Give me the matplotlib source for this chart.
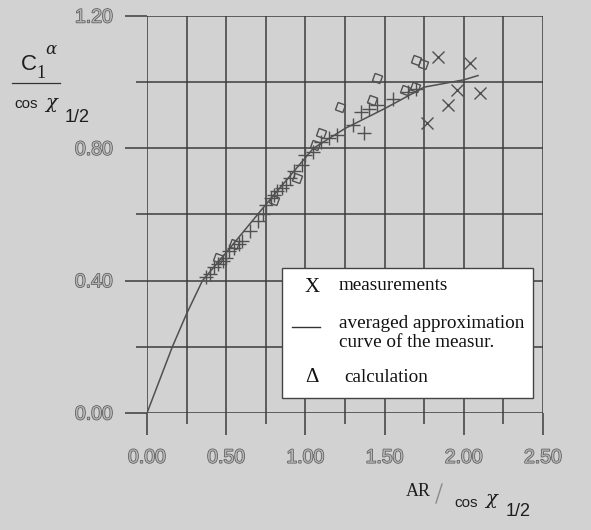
import matplotlib
matplotlib.use("Agg")
import matplotlib.pyplot as plt
import matplotlib.patheffects as pe
from matplotlib.patches import Rectangle
from matplotlib.lines import Line2D

# ---------------- data ----------------
curve_x = [0.0, 0.08, 0.16, 0.25, 0.35, 0.50, 0.75, 1.05, 1.25, 1.50, 1.75, 2.00, 2.09]
curve_y = [0.0, 0.10, 0.20, 0.30, 0.40, 0.485, 0.63, 0.80, 0.86, 0.92, 0.985, 1.007, 1.02]

meas_plus_x = [0.37, 0.40, 0.42, 0.45, 0.48, 0.50, 0.52, 0.55, 0.58, 0.60, 0.65,
               0.70, 0.73, 0.75, 0.78, 0.80, 0.82, 0.85, 0.88, 0.90, 0.93, 0.98,
               1.00, 1.05, 1.10, 1.15, 1.20, 1.30, 1.35, 1.37, 1.40, 1.45, 1.55,
               1.65, 1.70]
meas_plus_y = [0.41, 0.42, 0.44, 0.45, 0.46, 0.47, 0.49, 0.50, 0.51, 0.52, 0.55,
               0.58, 0.60, 0.63, 0.65, 0.66, 0.67, 0.68, 0.69, 0.71, 0.73, 0.75,
               0.78, 0.79, 0.82, 0.83, 0.84, 0.87, 0.91, 0.846, 0.92, 0.93, 0.95,
               0.97, 0.98]

meas_x_x = [1.84, 2.04, 1.96, 2.10, 1.90, 1.77]
meas_x_y = [1.076, 1.058, 0.976, 0.966, 0.93, 0.877]

calc_x = [0.45, 0.55, 0.80, 0.95, 1.06, 1.10, 1.22, 1.42, 1.45, 1.63, 1.69, 1.70, 1.74]
calc_y = [0.47, 0.51, 0.644, 0.71, 0.81, 0.846, 0.925, 0.946, 1.013, 0.976, 0.985, 1.067, 1.055]

x_ticks = [0.0, 0.5, 1.0, 1.5, 2.0, 2.5]
x_ticklabels = ["0.00", "0.50", "1.00", "1.50", "2.00", "2.50"]
x_minor = [0.25, 0.75, 1.25, 1.75, 2.25]
y_ticks = [0.0, 0.4, 0.8, 1.2]
y_ticklabels = ["0.00", "0.40", "0.80", "1.20"]
y_minor = [0.2, 0.6, 1.0]

legend_labels = ["measurements", "averaged approximation\ncurve of the measur.", "calculation"]

# ---------------- figure ----------------
W, H = 591, 530
BG = "#d2d2d2"
GRID = "#3c3c3c"
MARK = "#505050"

fig = plt.figure(figsize=(W / 100, H / 100), dpi=100, facecolor=BG)
ax = fig.add_axes([147 / W, 1 - 413 / H, (543 - 147) / W, (413 - 16) / H])
ax.set_facecolor(BG)
ax.set_xlim(0, 2.5)
ax.set_ylim(0, 1.2)
for s in ax.spines.values():
    s.set_visible(False)

ax.set_xticks(x_ticks)
ax.set_xticklabels(x_ticklabels)
ax.set_xticks(x_minor, minor=True)
ax.set_yticks(y_ticks)
ax.set_yticklabels(y_ticklabels)
ax.set_yticks(y_minor, minor=True)

ax.grid(True, which="both", color=GRID, linewidth=1.1)
ax.tick_params(which="major", length=15.5, width=1.1, color=GRID)
ax.tick_params(which="minor", length=7.9, width=1.1, color=GRID)
ax.tick_params(axis="y", which="major", pad=9)
ax.tick_params(axis="x", which="major", pad=11)

outline = [pe.Stroke(linewidth=1.0, foreground="#555555"), pe.Normal()]
for lab in ax.get_xticklabels() + ax.get_yticklabels():
    lab.set_fontfamily("Liberation Sans")
    lab.set_fontsize(14)
    lab.set_color("#b4b4b4")
    lab.set_path_effects(outline)

ax.plot(curve_x, curve_y, color=MARK, linewidth=1.1, zorder=3)
ax.plot(meas_plus_x, meas_plus_y, linestyle="none", marker="+", markersize=10,
        markeredgewidth=1.0, color=MARK, zorder=4)
ax.plot(meas_x_x, meas_x_y, linestyle="none", marker="x", markersize=8.5,
        markeredgewidth=1.0, color=MARK, zorder=4)
ax.plot(calc_x, calc_y, linestyle="none", marker=(4, 0, 25), markersize=8,
        markeredgewidth=1.0, markerfacecolor="none", markeredgecolor=MARK, zorder=4)


def fx(px):
    return px / W


def fy(py):
    return 1 - py / H


# ---------------- y label ----------------
ylab_color = "#1e1e1e"
fig.text(fx(29), fy(64), "C", fontsize=16, family="Liberation Sans", color=ylab_color,
         ha="center", va="center")
fig.text(fx(41), fy(74), "1", fontsize=13, family="Liberation Serif", color=ylab_color,
         ha="center", va="center")
fig.text(fx(51), fy(50), "α", fontsize=12, family="DejaVu Serif", color=ylab_color,
         ha="center", va="center", style="italic")
fig.add_artist(Line2D([fx(12), fx(60)], [fy(83), fy(83)], color="#333333", linewidth=0.9))
fig.text(fx(14), fy(104), "cos", fontsize=11, family="Liberation Sans", color=ylab_color,
         ha="left", va="center")
fig.text(fx(51), fy(103), "χ", fontsize=14, family="DejaVu Serif", color=ylab_color,
         ha="center", va="center", style="italic")
fig.text(fx(77), fy(118), "1/2", fontsize=13, family="Liberation Sans", color=ylab_color,
         ha="center", va="center")

# ---------------- x label ----------------
fig.text(fx(418), fy(492), "AR", fontsize=13, family="Liberation Serif", color=ylab_color,
         ha="center", va="center")
fig.add_artist(Line2D([fx(436), fx(442)], [fy(503), fy(484)], color="#8a8a8a", linewidth=1.0))
fig.text(fx(466), fy(503), "cos", fontsize=11, family="Liberation Sans", color=ylab_color,
         ha="center", va="center")
fig.text(fx(491), fy(499), "χ", fontsize=14, family="DejaVu Serif", color=ylab_color,
         ha="center", va="center", style="italic")
fig.text(fx(518), fy(511), "1/2", fontsize=13, family="Liberation Sans", color=ylab_color,
         ha="center", va="center")

# ---------------- legend ----------------
fig.add_artist(Rectangle((fx(282), fy(398)), (533 - 282) / W, (398 - 268) / H,
                         transform=fig.transFigure, facecolor="white",
                         edgecolor="#444444", linewidth=1.0, zorder=5))
lg = dict(family="Liberation Serif", fontsize=13.8, color="#111111", zorder=6, va="center")
fig.text(fx(312), fy(287), "X", ha="center", **{**lg, "fontsize": 15})
fig.text(fx(339), fy(286), legend_labels[0], ha="left", **lg)
fig.add_artist(Line2D([fx(292), fx(320)], [fy(327), fy(327)], color="#333333",
                      linewidth=1.0, zorder=6))
fig.text(fx(339), fy(333), legend_labels[1], ha="left", linespacing=1.2, **lg)
fig.text(fx(312), fy(377), "Δ", ha="center", **{**lg, "fontsize": 15})
fig.text(fx(344), fy(378), legend_labels[2], ha="left", **lg)

fig.savefig("out.png", dpi=100, facecolor=BG)
